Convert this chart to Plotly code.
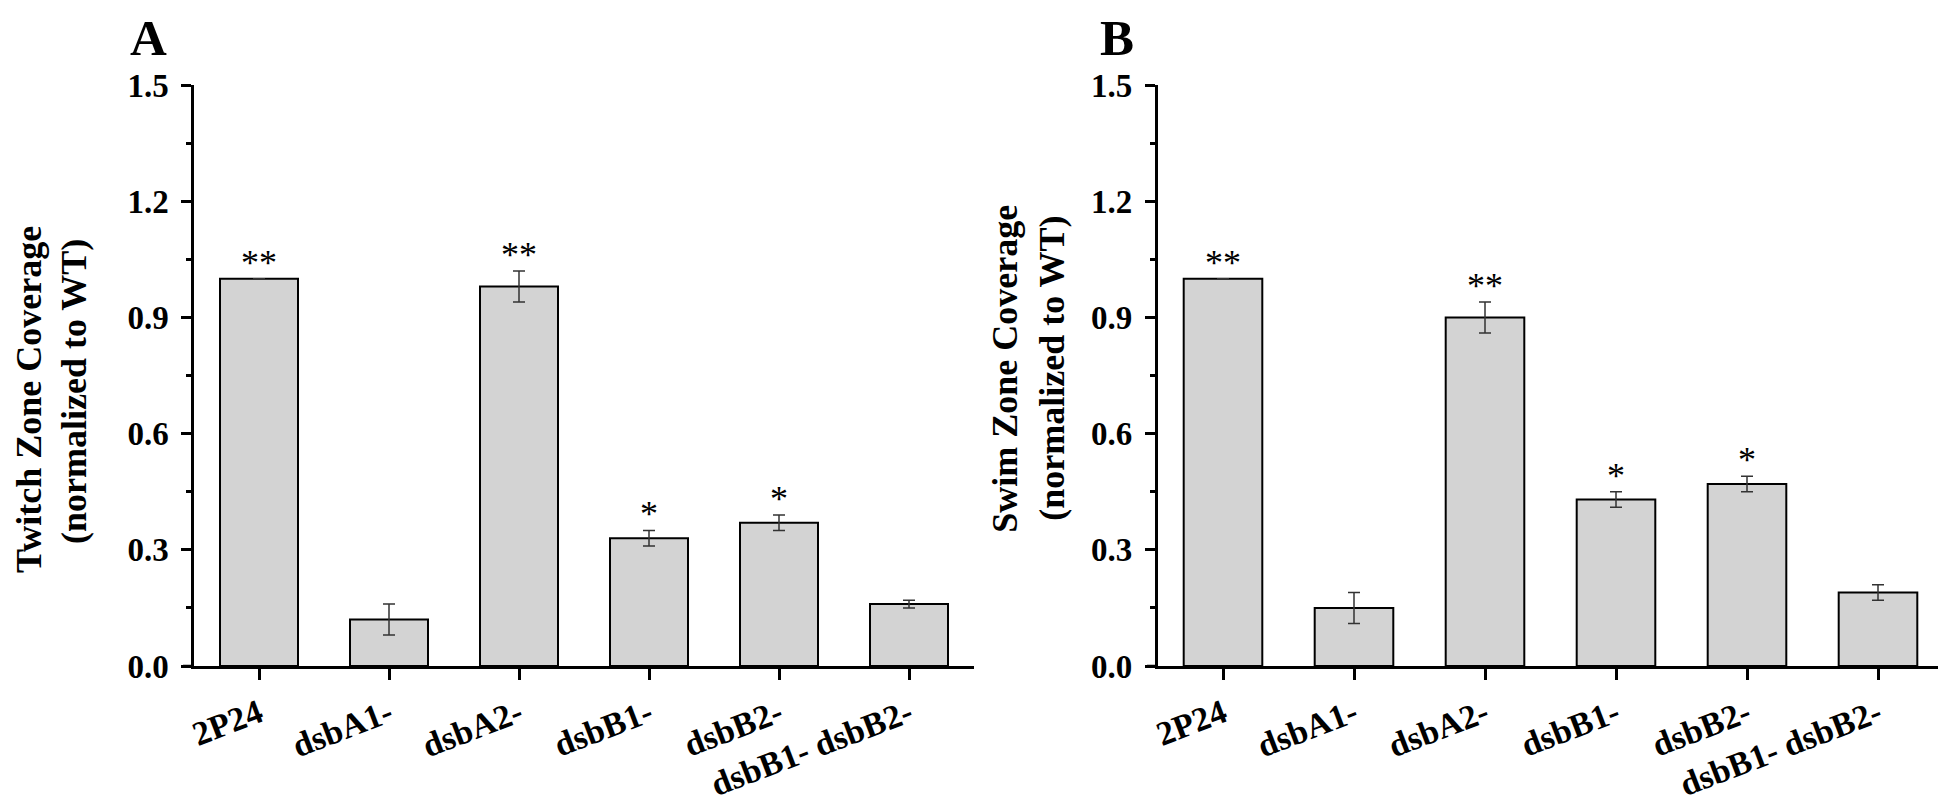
import plotly.graph_objects as go

categories = ["2P24", "dsbA1-", "dsbA2-", "dsbB1-", "dsbB2-", "dsbB1- dsbB2-"]
twitch_values = [1.00, 0.12, 0.98, 0.33, 0.37, 0.16]
twitch_errors = [0.00, 0.04, 0.04, 0.02, 0.02, 0.01]
twitch_marks = ["**", "", "**", "*", "*", ""]
swim_values = [1.00, 0.15, 0.90, 0.43, 0.47, 0.19]
swim_errors = [0.00, 0.04, 0.04, 0.02, 0.02, 0.02]
swim_marks = ["**", "", "**", "*", "*", ""]
y_ticks = [0.0, 0.3, 0.6, 0.9, 1.2, 1.5]
twitch_title = ["Twitch Zone Coverage", "(normalized to WT)"]
swim_title = ["Swim Zone Coverage", "(normalized to WT)"]

W, H = 1946, 801
OFF = 8  # page body margin
FONT = "Liberation Serif, Times New Roman, serif"
xpos = list(range(len(categories)))

fig = go.Figure()
for vals, errs, xa, ya in [(twitch_values, twitch_errors, "x", "y"),
                           (swim_values, swim_errors, "x2", "y2")]:
    fig.add_trace(go.Bar(
        x=xpos, y=vals, width=0.6, xaxis=xa, yaxis=ya,
        marker=dict(color="#d3d3d3", line=dict(color="black", width=2)),
        error_y=dict(type="data", array=errs, visible=True, color="#333333",
                     thickness=1.5, width=6),
        showlegend=False,
    ))

def px_x(p):
    return (p - OFF) / W

def px_y(p):
    return 1 - (p - OFF) / H

ydom = [px_y(666), px_y(85)]
axis_common = dict(showline=True, linecolor="black", linewidth=2.5, mirror=False,
                   showgrid=False, zeroline=False, automargin=False)

xcommon = dict(axis_common, range=[-0.5, 5.5], tickmode="array", tickvals=xpos,
               ticktext=categories, ticks="outside", ticklen=11, tickwidth=2.5,
               tickcolor="black", tickangle=-21, ticklabelstandoff=1,
               tickfont=dict(family=FONT, size=34, color="black", weight="bold"))
ycommon = dict(axis_common, range=[0, 1.5], tickmode="array", tickvals=y_ticks,
               tickformat=".1f", ticks="outside", ticklen=10, tickwidth=2.5,
               tickcolor="black", ticklabelstandoff=6,
               tickfont=dict(family=FONT, size=33, color="black", weight="bold"),
               minor=dict(tickmode="linear", tick0=0, dtick=0.15, ticks="outside",
                          ticklen=5, tickwidth=2.5, tickcolor="black"))

fig.update_layout(
    width=W, height=H,
    margin=dict(l=0, r=0, t=0, b=0, autoexpand=False),
    paper_bgcolor="white", plot_bgcolor="white",
    xaxis=dict(xcommon, domain=[px_x(194), px_x(974)], anchor="y"),
    yaxis=dict(ycommon, domain=ydom, anchor="x"),
    xaxis2=dict(xcommon, domain=[px_x(1157.5), px_x(1943.5)], anchor="y2"),
    yaxis2=dict(ycommon, domain=ydom, anchor="x2"),
    bargap=0.4,
)

# short extension of the x axis line to the left of the y axis (Origin style)
for x0, x1 in [(183, 194), (1147, 1157.5)]:
    fig.add_shape(type="line", xref="paper", yref="paper",
                  x0=px_x(x0), x1=px_x(x1), y0=px_y(666), y1=px_y(666),
                  line=dict(color="black", width=2.5))

annotations = []
# panel letters
for letter, xl in [("A", 128), ("B", 1098)]:
    annotations.append(dict(text="<b>" + letter + "</b>", x=px_x(xl), y=1,
                            xref="paper", yref="paper",
                            xanchor="left", yanchor="top", showarrow=False,
                            font=dict(family=FONT, size=51, color="black")))
# y titles (one annotation per line)
for lines, xcs, ycs in [(twitch_title, [29, 74], [400, 392]),
                        (swim_title, [1004.7, 1051.8], [369, 368])]:
    for line, xc, yc in zip(lines, xcs, ycs):
        annotations.append(dict(text="<b>" + line + "</b>", x=px_x(xc), y=px_y(yc),
                                xref="paper", yref="paper", xanchor="center",
                                yanchor="middle", textangle=-90, showarrow=False,
                                font=dict(family=FONT, size=36, color="black")))
# significance marks
for vals, errs, marks, xr, yr in [(twitch_values, twitch_errors, twitch_marks, "x", "y"),
                                  (swim_values, swim_errors, swim_marks, "x2", "y2")]:
    for i, m in enumerate(marks):
        if m:
            annotations.append(dict(text=m, x=xpos[i], y=vals[i] + errs[i], xref=xr, yref=yr,
                                    xanchor="center", yanchor="bottom", yshift=-6,
                                    showarrow=False,
                                    font=dict(family=FONT, size=36, color="black")))
fig.update_layout(annotations=annotations)

fig.write_html("out.html")
